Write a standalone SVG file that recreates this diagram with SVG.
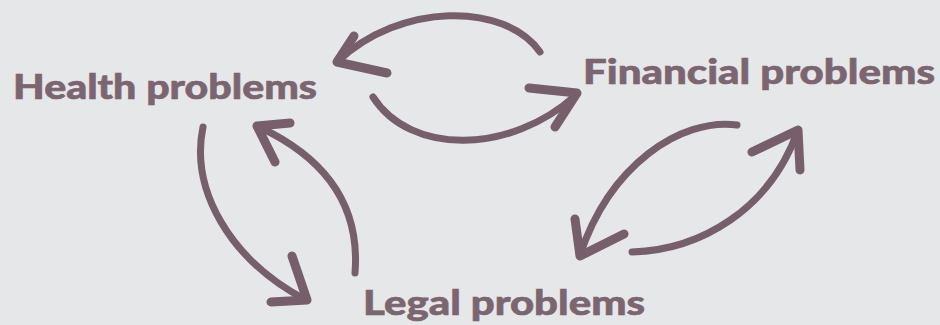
<svg xmlns="http://www.w3.org/2000/svg" width="940" height="325" viewBox="0 0 940 325">
  <style>
    .label { font-family: "Lato", "Open Sans", "Liberation Sans", sans-serif; font-weight: 900; font-size: 34px; fill: #7b6570; stroke: #7b6570; stroke-width: 0.6; }
    .shaft { fill: none; stroke: #765f6b; stroke-width: 7; stroke-linecap: round; }
    .wing { fill: none; stroke: #765f6b; stroke-width: 9; stroke-linecap: round; stroke-linejoin: round; }
  </style>
  <rect width="940" height="325" fill="#e6e7e9"/>

  <g id="health">
    <text class="label" x="13" y="99" textLength="304" lengthAdjust="spacingAndGlyphs">Health problems</text>
  </g>
  <g id="financial">
    <text class="label" x="583" y="84" textLength="352" lengthAdjust="spacingAndGlyphs">Financial problems</text>
  </g>
  <g id="legal">
    <text class="label" x="363" y="315" textLength="282" lengthAdjust="spacingAndGlyphs">Legal problems</text>
  </g>

  <g id="connectors">
    <!-- financial -> health (top) -->
    <path class="shaft" d="M540,52 C505,2 400,2 337,62"/>
    <path class="wing" d="M354,36 L337,62 L387,73"/>
    <!-- health -> financial (bottom) -->
    <path class="shaft" d="M373,97 C410,155 510,155 576,95"/>
    <path class="wing" d="M529,88 L577,93 L555,127"/>
    <!-- financial -> legal -->
    <path class="shaft" d="M737,125 C680,118 610,165 580,255"/>
    <path class="wing" d="M575,219 L580,256 L624,234"/>
    <!-- legal -> financial -->
    <path class="shaft" d="M632,252 C700,250 770,210 798,130"/>
    <path class="wing" d="M752,152 L798,130 L800,170"/>
    <!-- health -> legal -->
    <path class="shaft" d="M203,127 C190,190 230,260 306,300"/>
    <path class="wing" d="M292,256 L307,300 L271,302"/>
    <!-- legal -> health -->
    <path class="shaft" d="M355,273 C360,210 330,160 259,127"/>
    <path class="wing" d="M290,123 L257,126 L275,162"/>
  </g>
</svg>
